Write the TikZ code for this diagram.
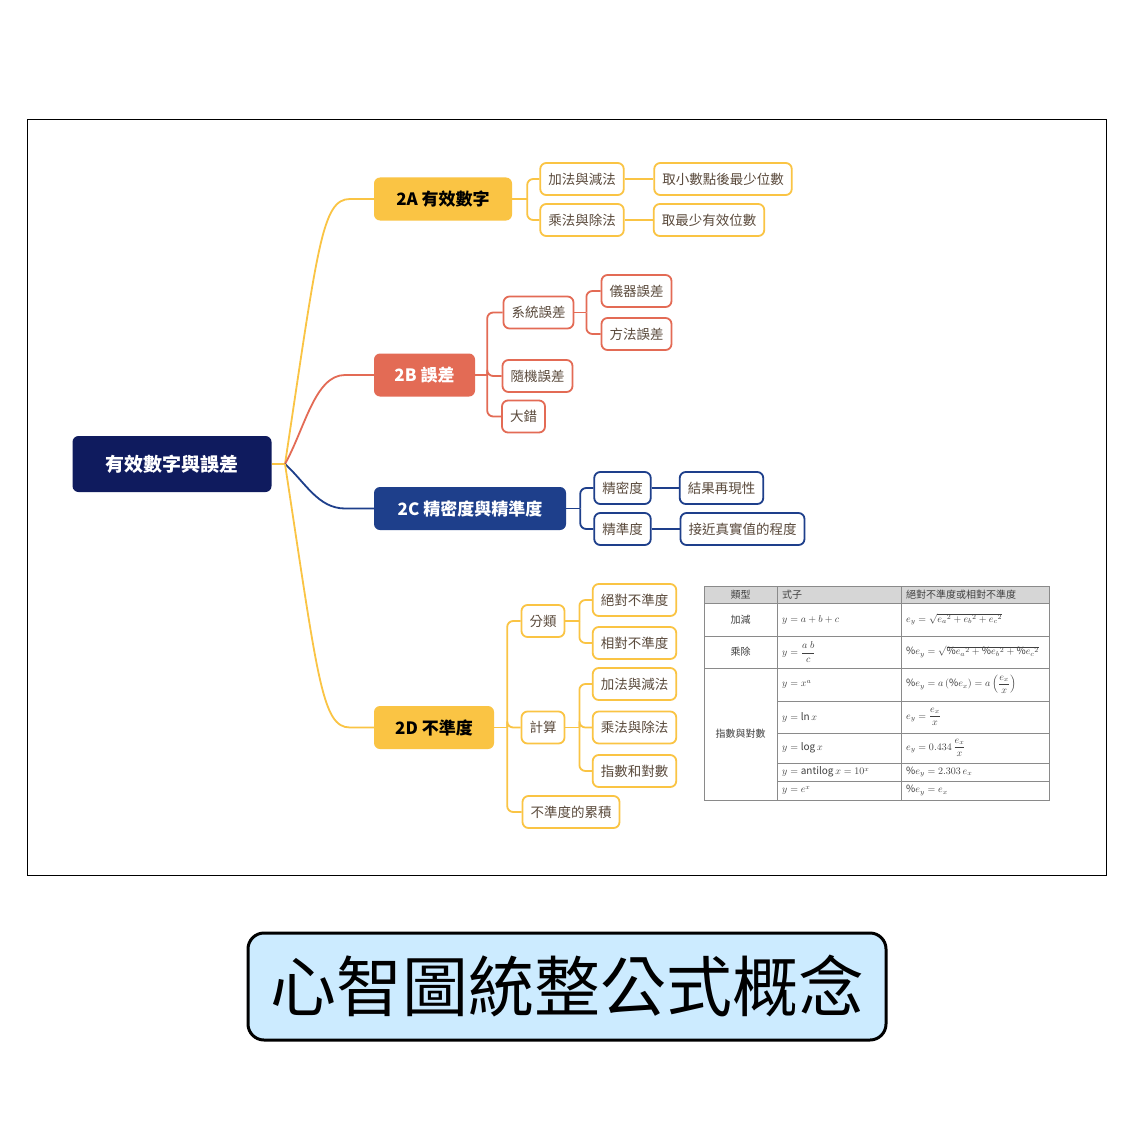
\documentclass[tikz,border=0pt]{standalone}
\usepackage{fontspec}
\usepackage{amsmath}
\setmainfont{Noto Sans CJK TC}
\usetikzlibrary{positioning,calc}

\definecolor{rootblue}{HTML}{0F1B5E}
\definecolor{sunyellow}{HTML}{FAC444}
\definecolor{coral}{HTML}{E36B55}
\definecolor{deepblue}{HTML}{1E3F8B}
\definecolor{kidtext}{HTML}{5A4A3C}
\definecolor{sky}{HTML}{CCEBFF}
\definecolor{cellgray}{HTML}{D6D6D6}
\definecolor{rulegray}{HTML}{8A8A8A}

\tikzset{
    main/.style={rounded corners=6pt, minimum height=43pt, inner xsep=4pt,
        font=\fontsize{17}{17}\selectfont\bfseries},
    kid/.style={draw, fill=white, rounded corners=6pt, line width=1.8pt,
        minimum height=32pt, inner xsep=8pt, text=kidtext,
        font=\fontsize{13.5}{14}\selectfont},
    cell/.style={inner sep=0pt, text=black!75, font=\fontsize{10}{11}\selectfont},
    link/.style={line width=1.8pt, rounded corners=6pt}
}

\begin{document}
\begin{tikzpicture}[x=1pt, y=-1pt]

        \useasboundingbox (0,0) rectangle (1134,1134);
        \fill[white] (0,0) rectangle (1134,1134);
        \draw[line width=1pt] (27,120) rectangle (1106,875);

        % root and the four branches
        \node (root) at (172,464) [main, fill=rootblue, text=white,
            minimum width=199pt, minimum height=56pt,
            font=\fontsize{19}{19}\selectfont\bfseries] {有效數字與誤差};
        \coordinate (J) at (285,464);

        \node (b2A) at (443,199) [main, fill=sunyellow, minimum width=138pt] {2A 有效數字};
        \node (b2B) at (424.5,375) [main, fill=coral, text=white, minimum width=101pt] {2B 誤差};
        \node (b2C) at (470,508.5) [main, fill=deepblue, text=white, minimum width=192pt] {2C 精密度與精準度};
        \node (b2D) at (434,727.5) [main, fill=sunyellow, minimum width=120pt] {2D 不準度};

        % 2A
        \begin{scope}[every node/.append style={kid, draw=sunyellow}]
            \node (A1) at (582,179) {加法與減法};
            \node (A2) at (582,220) {乘法與除法};
            \node (A11) at (723,179) {取小數點後最少位數};
            \node (A21) at (709,220) {取最少有效位數};
        \end{scope}

        % 2B
        \begin{scope}[every node/.append style={kid, draw=coral}]
            \node (B1) at (538.5,312.5) {系統誤差};
            \node (B2) at (537.5,376) {隨機誤差};
            \node (B3) at (523.5,416.5) {大錯};
            \node (B11) at (636.5,291) {儀器誤差};
            \node (B12) at (636.5,334) {方法誤差};
        \end{scope}

        % 2C
        \begin{scope}[every node/.append style={kid, draw=deepblue}]
            \node (C1) at (622.5,488) {精密度};
            \node (C2) at (622.5,529) {精準度};
            \node (C11) at (721.5,488) {結果再現性};
            \node (C21) at (742.5,529) {接近真實值的程度};
        \end{scope}

        % 2D
        \begin{scope}[every node/.append style={kid, draw=sunyellow}]
            \node (D1) at (543,621) {分類};
            \node (D2) at (543,727.5) {計算};
            \node (D3) at (571,812) {不準度的累積};
            \node (D11) at (634.5,600) {絕對不準度};
            \node (D12) at (634.5,643) {相對不準度};
            \node (D21) at (634.5,684) {加法與減法};
            \node (D22) at (634.5,727.5) {乘法與除法};
            \node (D23) at (634.5,771) {指數和對數};
        \end{scope}

        % curved links from the root
        \begin{scope}[line width=1.8pt]
            \draw[sunyellow] (root.east) -- (J);
            \draw[sunyellow] (J) .. controls (318,245) and (322,199) .. (350,199) -- (b2A.west);
            \draw[coral] (J) .. controls (305,428) and (315,375) .. (345,375) -- (b2B.west);
            \draw[deepblue] (J) .. controls (305,482) and (318,508.5) .. (345,508.5) -- (b2C.west);
            \draw[sunyellow] (J) .. controls (318,680) and (322,727.5) .. (350,727.5) -- (b2D.west);
        \end{scope}

        % brackets
        \begin{scope}[link, sunyellow]
            \draw (b2A.east) -- ++(15,0) coordinate (a0);
            \foreach \k in {A1,A2} \draw (a0) |- (\k.west);
            \draw (A1.east) -- (A11.west);
            \draw (A2.east) -- (A21.west);

            \draw (b2D.east) -- ++(13,0) coordinate (d0);
            \foreach \k in {D1,D2,D3} \draw (d0) |- (\k.west);
            \draw (D1.east) -- ++(14,0) coordinate (d1);
            \foreach \k in {D11,D12} \draw (d1) |- (\k.west);
            \draw (D2.east) -- ++(14,0) coordinate (d2);
            \foreach \k in {D21,D22,D23} \draw (d2) |- (\k.west);
        \end{scope}

        \begin{scope}[link, coral]
            \draw (b2B.east) -- ++(12,0) coordinate (b0);
            \foreach \k in {B1,B2,B3} \draw (b0) |- (\k.west);
            \draw (B1.east) -- ++(12,0) coordinate (b1);
            \foreach \k in {B11,B12} \draw (b1) |- (\k.west);
        \end{scope}

        \begin{scope}[link, deepblue]
            \draw (b2C.east) -- ++(14,0) coordinate (c0);
            \foreach \k in {C1,C2} \draw (c0) |- (\k.west);
            \draw (C1.east) -- (C11.west);
            \draw (C2.east) -- (C21.west);
        \end{scope}

        % formula table
        \fill[cellgray] (704,586) rectangle (1049,603);
        \begin{scope}[rulegray, line width=0.8pt]
            \draw (704,586) rectangle (1049,800);
            \foreach \y in {603,636,668}
            \draw (704,\y) -- (1049,\y);
            \foreach \y in {701,733,763,781}
            \draw (777,\y) -- (1049,\y);
            \draw (777,586) -- (777,800);
            \draw (901,586) -- (901,800);
        \end{scope}

        \begin{scope}[every node/.append style={cell}]
            \node (h1) at (740.5,594.5) {類型};
            \node (h2) [anchor=west] at (782,594.5) {式子};
            \node (h3) [anchor=west] at (906,594.5) {絕對不準度或相對不準度};

            \node (k1) at (740.5,619.5) {加減};
            \node (k2) at (740.5,652) {乘除};
            \node (k3) at (740.5,734) {指數與對數};

            \node (f1) [anchor=west] at (782,619.5) {$y = a + b + c$};
            \node (f2) [anchor=west] at (782,652) {$y = \dfrac{a\;b}{c}$};
            \node (f3) [anchor=west] at (782,684.5) {$y = x^a$};
            \node (f4) [anchor=west] at (782,717) {$y = \ln x$};
            \node (f5) [anchor=west] at (782,748) {$y = \log x$};
            \node (f6) [anchor=west] at (782,772) {$y = \mathrm{antilog}\,x = 10^x$};
            \node (f7) [anchor=west] at (782,790.5) {$y = e^x$};

            \node (u1) [anchor=west] at (906,619.5) {$e_y = \sqrt{{e_a}^2 + {e_b}^2 + {e_c}^2}$};
            \node (u2) [anchor=west] at (906,652) {$\%e_y = \sqrt{\%{e_a}^2 + \%{e_b}^2 + \%{e_c}^2}$};
            \node (u3) [anchor=west] at (906,684.5) {$\%e_y = a\,(\%e_x) = a\left(\dfrac{e_x}{x}\right)$};
            \node (u4) [anchor=west] at (906,717) {$e_y = \dfrac{e_x}{x}$};
            \node (u5) [anchor=west] at (906,748) {$e_y = 0.434\,\dfrac{e_x}{x}$};
            \node (u6) [anchor=west] at (906,772) {$\%e_y = 2.303\,e_x$};
            \node (u7) [anchor=west] at (906,790.5) {$\%e_y = e_x$};
        \end{scope}

        % caption
        \node (title) at (567,986.5) [draw, line width=3pt, fill=sky, rounded corners=16pt,
            minimum width=638pt, minimum height=107pt,
            font=\fontsize{66}{66}\selectfont] {心智圖統整公式概念};

\end{tikzpicture}
\end{document}
